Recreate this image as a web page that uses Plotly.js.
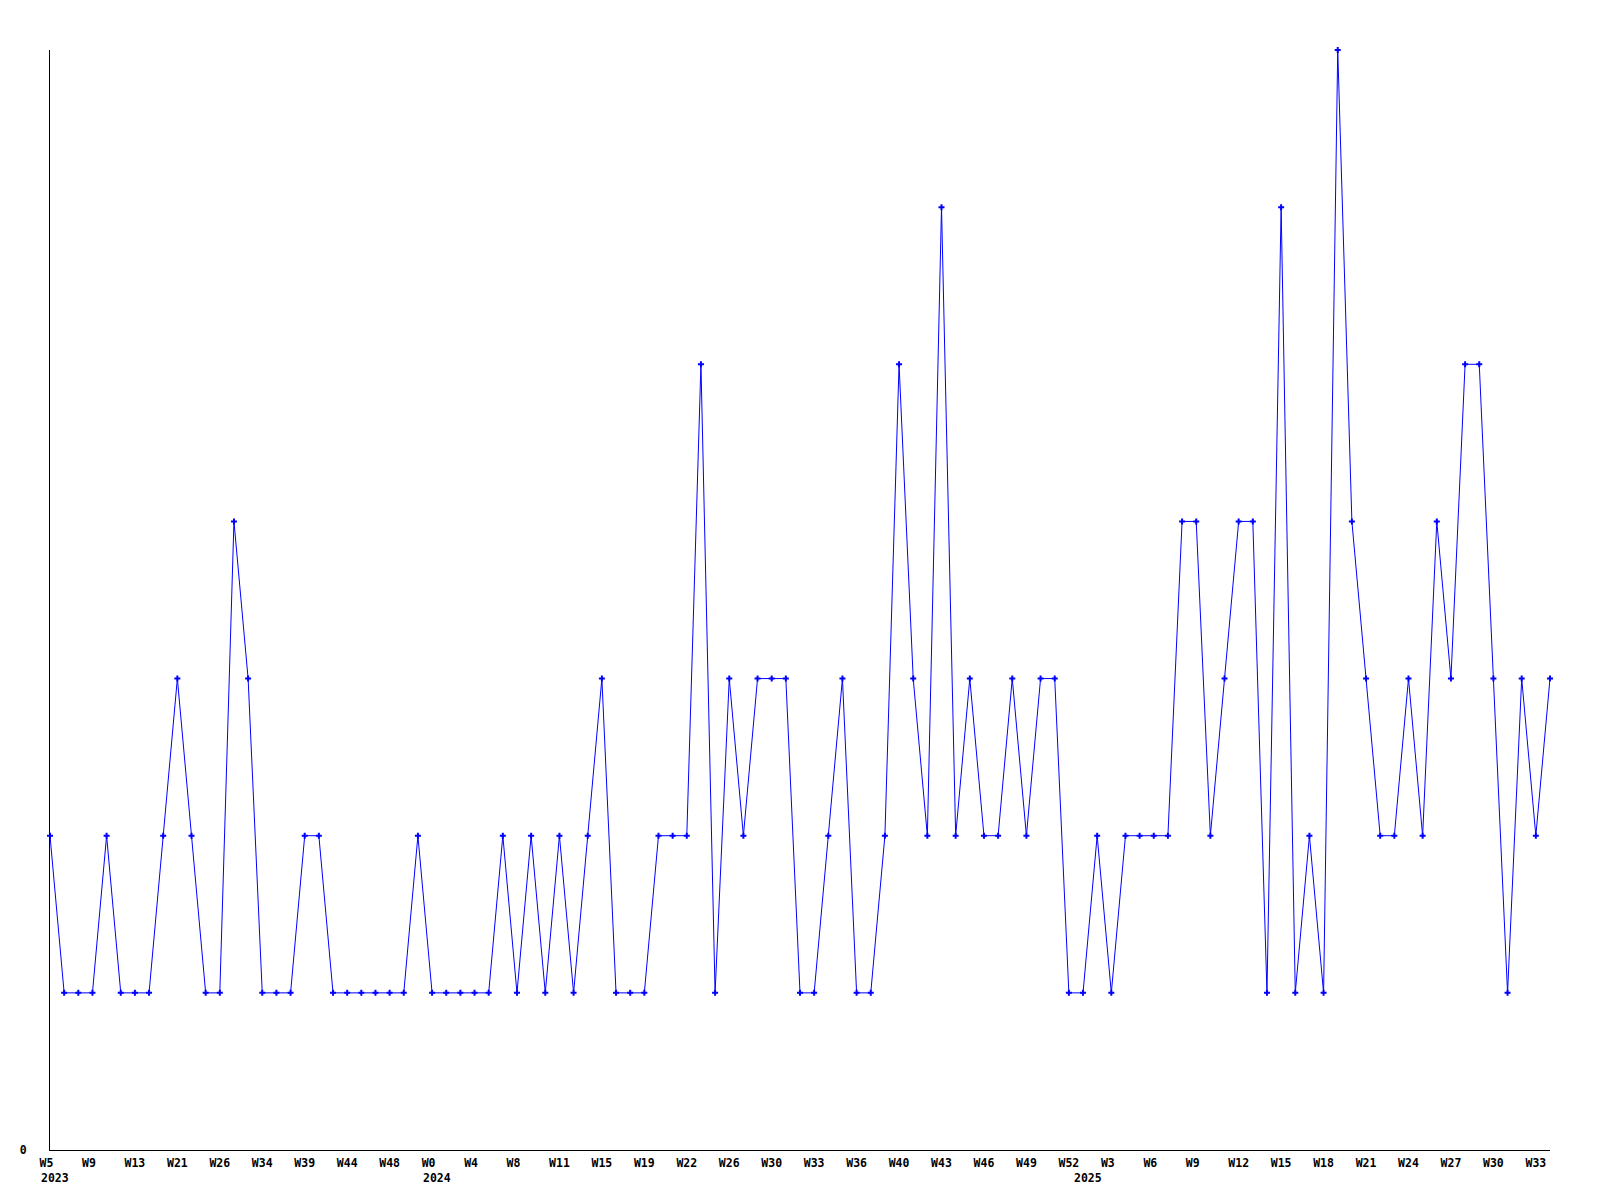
<!DOCTYPE html>
<html>
<head>
<meta charset="utf-8">
<script src="https://cdn.plot.ly/plotly-3.0.1.min.js"></script>
<style>html,body{margin:0;padding:0;background:#fff;}#chart{width:1600px;height:1200px;}</style>
</head>
<body>
<div id="chart"></div>
<script>
// Weekly counts, one value per data point
const values = [
  2,1,1,1,2,1,1,1,2,3,
  2,1,1,4,3,1,1,1,2,2,
  1,1,1,1,1,1,2,1,1,1,
  1,1,2,1,2,1,2,1,2,3,
  1,1,1,2,2,2,5,1,3,2,
  3,3,3,1,1,2,3,1,1,2,
  5,3,2,6,2,3,2,2,3,2,
  3,3,1,1,2,1,2,2,2,2,
  4,4,2,3,4,4,1,6,1,2,
  1,7,4,3,2,2,3,2,4,3,
  5,5,3,1,3,2,3
];
// Week labels shown on every third point
const weekLabels = [
  "W5","W9","W13","W21","W26","W34","W39","W44","W48",
  "W0","W4","W8","W11","W15","W19","W22","W26","W30","W33","W36","W40","W43","W46","W49","W52",
  "W3","W6","W9","W12","W15","W18","W21","W24","W27","W30","W33"
];
const labelEvery = 3;
// Year labels and the data point where each year starts
const years = ["2023","2024","2025"];
const yearStart = [0, 27, 73];

const xIdx = values.map((v, i) => i);
const tickvals = weekLabels.map((t, i) => i * labelEvery);
const ticktext = weekLabels.map(t => t.length < 3 ? t + "\u00a0".repeat(3 - t.length) : t);

const FONT = "DejaVu Sans Mono, Liberation Mono, monospace";
const FSIZE = 11.5;

const trace = {
  x: xIdx,
  y: values,
  type: "scatter",
  mode: "lines+markers",
  line: {color: "#0000ff", width: 1},
  marker: {symbol: "cross", size: 5, color: "#0000ff"},
  cliponaxis: false,
  hoverinfo: "skip"
};

const annotations = years.map((y, i) => ({
  x: yearStart[i], xref: "x",
  y: 0, yref: "paper",
  text: y,
  showarrow: false,
  xanchor: "left", yanchor: "middle",
  xshift: -11, yshift: -28,
  font: {family: FONT, size: FSIZE, color: "#000", weight: "bold"}
}));

const layout = {
  width: 1600, height: 1200,
  margin: {l: 50, r: 50, t: 50, b: 50, pad: 0},
  paper_bgcolor: "#fff", plot_bgcolor: "#fff",
  showlegend: false,
  xaxis: {
    range: [0, values.length - 1],
    showgrid: false, zeroline: false,
    showline: true, linecolor: "#000", linewidth: 1,
    ticks: "", tickmode: "array", tickvals: tickvals, ticktext: ticktext,
    tickangle: 0,
    ticklabelstandoff: 2,
    tickfont: {family: FONT, size: FSIZE, color: "#000", weight: "bold"}
  },
  yaxis: {
    range: [0, 7],
    showgrid: false, zeroline: false,
    showline: true, linecolor: "#000", linewidth: 1,
    ticks: "", tickmode: "array", tickvals: [0], ticktext: ["0"],
    ticklabelstandoff: 20,
    tickfont: {family: FONT, size: FSIZE, color: "#000", weight: "bold"}
  },
  annotations: annotations
};

Plotly.newPlot("chart", [trace], layout, {staticPlot: true, displayModeBar: false});
</script>
</body>
</html>
